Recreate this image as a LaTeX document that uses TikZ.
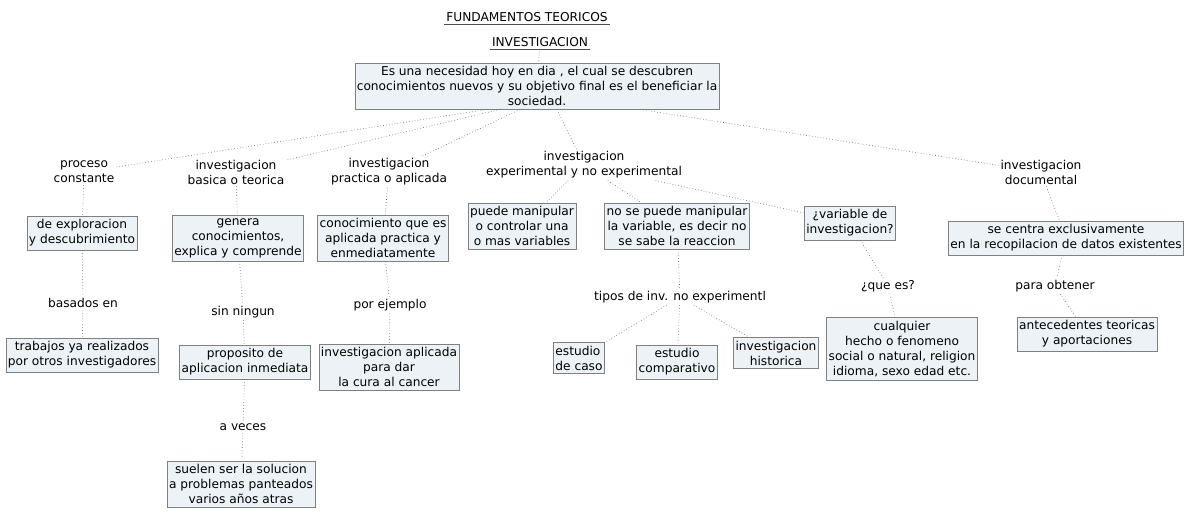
\documentclass[tikz,border=0pt]{standalone}
\usepackage{fontspec}
\setmainfont{DejaVu Sans}
\definecolor{boxfill}{RGB}{236,242,245}
\definecolor{linkgray}{RGB}{110,110,110}

\tikzset{
    concept/.style={draw=black!50, line width=0.5pt, fill=boxfill, align=center,
        inner xsep=2pt, inner ysep=3.5pt},
    phrase/.style={align=center, inner sep=2pt},
    link/.style={draw=linkgray, line width=0.6pt, dash pattern=on 0.7pt off 2.2pt}
}

\begin{document}
\begin{tikzpicture}[x=1pt, y=-1pt, font=\fontsize{12.2}{15}\selectfont]

    \useasboundingbox (0,0) rectangle (1190,521);

    % ==========================================
    % TOP: titles and main concept
    % ==========================================
    \node[phrase] (title) at (527,17) {FUNDAMENTOS TEORICOS};
    \node[phrase] (inv) at (540,42) {INVESTIGACION};
    \draw[black!70] (title.south west) -- (title.south east);
    \draw[black!70] (inv.south west) -- (inv.south east);

    \node[concept] (main) at (537,86)
        {Es una necesidad hoy en dia , el cual se descubren\\
         conocimientos nuevos y su objetivo final es el beneficiar la\\
         sociedad.};

    \draw[link] (inv) -- (main);

    % ==========================================
    % LEVEL 1: kinds of research
    % ==========================================
    \node[phrase] (proc) at (84,172) {proceso\\constante};
    \node[phrase] (basic) at (236,172) {investigacion\\basica o teorica};
    \node[phrase] (prac) at (389,172) {investigacion\\practica o aplicada};
    \node[phrase] (expe) at (584,165) {investigacion\\experimental y no experimental};
    \node[phrase] (docu) at (1041,172) {investigacion\\documental};

    \draw[link] ([xshift=-50pt]main.south) -- (proc);
    \draw[link] ([xshift=-37pt]main.south) -- (basic);
    \draw[link] ([xshift=-17pt]main.south) -- (prac);
    \draw[link] ([xshift=20pt]main.south) -- (expe);
    \draw[link] ([xshift=103pt]main.south) -- (docu);

    % ==========================================
    % COLUMN 1: proceso constante
    % ==========================================
    \node[concept] (explo) at (82,233) {de exploracion\\y descubrimiento};
    \node[phrase] (based) at (83,303) {basados en};
    \node[concept] (works) at (82,355) {trabajos ya realizados\\por otros investigadores};

    \draw[link] (proc) -- (explo);
    \draw[link] (explo) -- (based);
    \draw[link] (based) -- (works);

    % ==========================================
    % COLUMN 2: basica o teorica
    % ==========================================
    \node[concept] (gen) at (238,238) {genera\\conocimientos,\\explica y comprende};
    \node[phrase] (nongun) at (243,312) {sin ningun};
    \node[concept] (purp) at (245,362) {proposito de\\aplicacion inmediata};
    \node[phrase] (times) at (243,427) {a veces};
    \node[concept] (sol) at (241,484) {suelen ser la solucion\\a problemas panteados\\varios años atras};

    \draw[link] (basic) -- (gen);
    \draw[link] (gen) -- (nongun);
    \draw[link] (nongun) -- (purp);
    \draw[link] (purp) -- (times);
    \draw[link] (times) -- (sol);

    % ==========================================
    % COLUMN 3: practica o aplicada
    % ==========================================
    \node[concept] (know) at (383,238) {conocimiento que es\\aplicada practica y\\enmediatamente};
    \node[phrase] (example) at (390,305) {por ejemplo};
    \node[concept] (cure) at (389,367) {investigacion aplicada\\para dar\\la cura al cancer};

    \draw[link] (prac) -- (know);
    \draw[link] (know) -- (example);
    \draw[link] (example) -- (cure);

    % ==========================================
    % COLUMN 4: experimental y no experimental
    % ==========================================
    \node[concept] (can) at (522,226) {puede manipular\\o controlar una\\o mas variables};
    \node[concept] (cannot) at (677,226) {no se puede manipular\\la variable, es decir no\\se sabe la reaccion};
    \node[concept] (var) at (850,223) {¿variable de\\investigacion?};
    \node[phrase] (kinds) at (680,297) {tipos de inv. no experimentl};
    \node[concept, align=left] (case) at (579,358) {estudio\\de caso};
    \node[concept] (compar) at (677,362) {estudio\\comparativo};
    \node[concept] (hist) at (776,353) {investigacion\\historica};
    \node[phrase] (what) at (888,286) {¿que es?};
    \node[concept] (any) at (902,349) {cualquier\\hecho o fenomeno\\social o natural, religion\\idioma, sexo edad etc.};

    \draw[link] (expe) -- (can);
    \draw[link] (expe) -- (cannot);
    \draw[link] (expe) -- (var);
    \draw[link] (cannot) -- (kinds);
    \draw[link] (kinds) -- (case);
    \draw[link] (kinds) -- (compar);
    \draw[link] (kinds) -- (hist);
    \draw[link] (var) -- (what);
    \draw[link] (what) -- (any);

    % ==========================================
    % COLUMN 5: documental
    % ==========================================
    \node[concept] (focus) at (1066,238) {se centra exclusivamente\\en la recopilacion de datos existentes};
    \node[phrase] (obtain) at (1055,286) {para obtener};
    \node[concept] (antec) at (1087,334) {antecedentes teoricas\\y aportaciones};

    \draw[link] (docu) -- (focus);
    \draw[link] (focus) -- (obtain);
    \draw[link] (obtain) -- (antec);

\end{tikzpicture}
\end{document}
